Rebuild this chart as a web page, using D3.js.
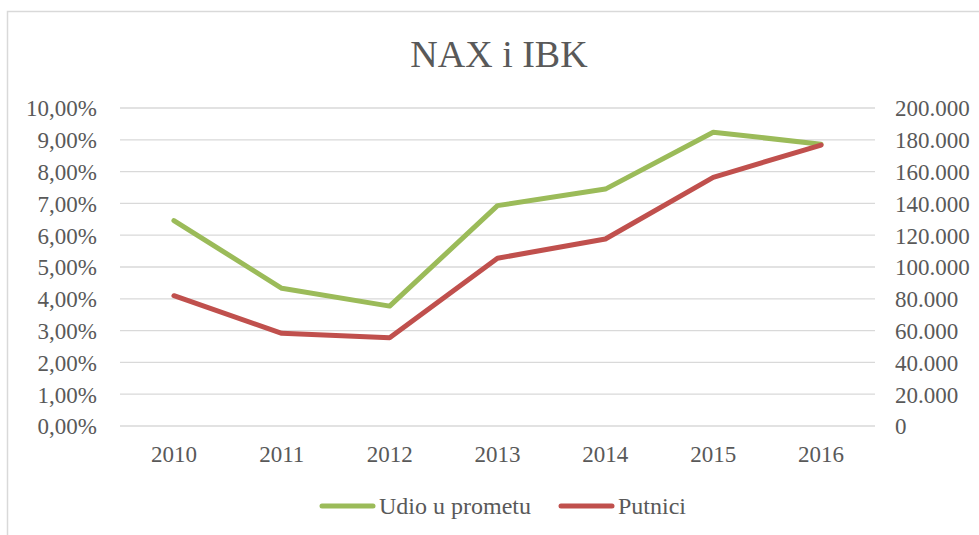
<!DOCTYPE html>
<html lang="en">
<head>
<meta charset="UTF-8">
<title>NAX i IBK</title>
<script src="https://cdn.jsdelivr.net/npm/d3@7"></script>
<style>
  body { margin: 0; background: #fff; }
  svg text { font-family: "Liberation Serif", "Times New Roman", "DejaVu Serif", serif; fill: #595959; }
</style>
</head>
<body>
<div id="chart"></div>
<script>
// data
var years = ["2010", "2011", "2012", "2013", "2014", "2015", "2016"];
var udio = [0.0646, 0.0433, 0.0377, 0.0693, 0.0745, 0.0924, 0.0886];
var putnici = [81950, 58300, 55500, 105500, 117600, 156400, 176700];
var leftTicks = [0, 0.01, 0.02, 0.03, 0.04, 0.05, 0.06, 0.07, 0.08, 0.09, 0.10];
var rightTicks = [0, 20000, 40000, 60000, 80000, 100000, 120000, 140000, 160000, 180000, 200000];
var seriesNames = ["Udio u prometu", "Putnici"];

// plot area (window.top is read-only, so use other names)
var w = 979, h = 535;
var plotL = 120, plotR = 875, plotT = 108, plotB = 426;
var green = "#9bbb59", red = "#c0504d";

var svg = d3.select("#chart").append("svg")
  .attr("width", w)
  .attr("height", h);

// chart frame (runs off the right and bottom edges)
svg.append("rect")
  .attr("x", 7.5).attr("y", 11.5)
  .attr("width", 1000).attr("height", 600)
  .attr("fill", "none")
  .attr("stroke", "#d9d9d9")
  .attr("stroke-width", 1.5);

var x = d3.scaleBand().domain(years).range([plotL, plotR]);
var yL = d3.scaleLinear().domain([0, 0.10]).range([plotB, plotT]);
var yR = d3.scaleLinear().domain([0, 200000]).range([plotB, plotT]);

// gridlines
svg.append("g")
  .selectAll("line")
  .data(leftTicks)
  .enter()
  .append("line")
  .attr("x1", plotL).attr("x2", plotR)
  .attr("y1", function(d) { return yL(d); })
  .attr("y2", function(d) { return yL(d); })
  .attr("stroke", "#d9d9d9")
  .attr("stroke-width", 1.3);

// left axis labels
var pct = function(d) { return (d * 100).toFixed(2).replace(".", ",") + "%"; };
var axL = svg.append("g")
  .attr("transform", "translate(" + plotL + ",0)")
  .call(d3.axisLeft(yL).tickValues(leftTicks).tickFormat(pct).tickSize(0).tickPadding(23));
axL.select(".domain").remove();
axL.selectAll("text").attr("font-size", "23px").attr("dy", "0.34em");

// right axis labels
var thou = function(d) { return d3.format(",")(d).replace(/,/g, "."); };
var axR = svg.append("g")
  .attr("transform", "translate(" + plotR + ",0)")
  .call(d3.axisRight(yR).tickValues(rightTicks).tickFormat(thou).tickSize(0).tickPadding(20));
axR.select(".domain").remove();
axR.selectAll("text").attr("font-size", "23px").attr("dy", "0.34em");

// x axis labels
var axX = svg.append("g")
  .attr("transform", "translate(0," + plotB + ")")
  .call(d3.axisBottom(x).tickSize(0).tickPadding(20));
axX.select(".domain").remove();
axX.selectAll("text").attr("font-size", "23px").attr("dy", "0.71em");

var cx = function(i) { return x(years[i]) + x.bandwidth() / 2; };

// lines
var lineL = d3.line()
  .x(function(d, i) { return cx(i); })
  .y(function(d) { return yL(d); });
var lineR = d3.line()
  .x(function(d, i) { return cx(i); })
  .y(function(d) { return yR(d); });

svg.append("path")
  .attr("d", lineL(udio))
  .attr("fill", "none")
  .attr("stroke", green)
  .attr("stroke-width", 5)
  .attr("stroke-linejoin", "round")
  .attr("stroke-linecap", "round");

svg.append("path")
  .attr("d", lineR(putnici))
  .attr("fill", "none")
  .attr("stroke", red)
  .attr("stroke-width", 5)
  .attr("stroke-linejoin", "round")
  .attr("stroke-linecap", "round");

// title
svg.append("text")
  .attr("x", 499).attr("y", 67)
  .attr("text-anchor", "middle")
  .attr("font-size", "38px")
  .text("NAX i IBK");

// legend
var legendX = [320, 559];
var legendColors = [green, red];
var lg = svg.append("g")
  .selectAll("g")
  .data(seriesNames)
  .enter()
  .append("g")
  .attr("transform", function(d, i) { return "translate(" + legendX[i] + ",506)"; });

lg.append("line")
  .attr("x1", 2).attr("x2", 53)
  .attr("stroke", function(d, i) { return legendColors[i]; })
  .attr("stroke-width", 5)
  .attr("stroke-linecap", "round");

lg.append("text")
  .attr("x", 59).attr("y", 8)
  .attr("font-size", "24px")
  .text(function(d) { return d; });
</script>
</body>
</html>
